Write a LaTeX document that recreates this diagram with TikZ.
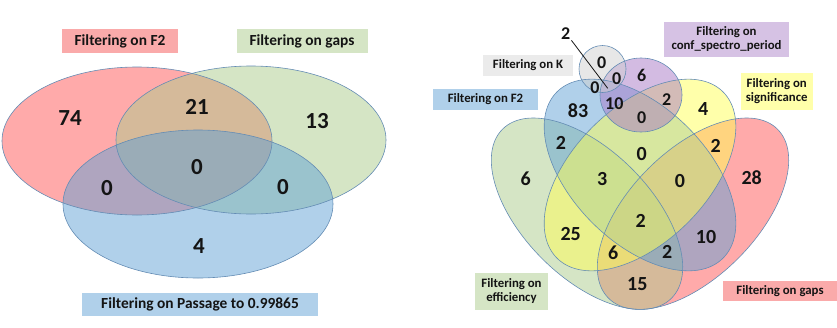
\documentclass[tikz,border=0pt]{standalone}
\usepackage{fontspec}
\setmainfont{Carlito}
\usetikzlibrary{positioning}
\definecolor{setRed}{RGB}{255,85,85}
\definecolor{setGreen}{RGB}{171,203,139}
\definecolor{setBlue}{RGB}{97,161,213}
\definecolor{setYellow}{RGB}{255,255,85}
\definecolor{setPurple}{RGB}{168,120,198}
\definecolor{setGray}{RGB}{208,208,208}
\definecolor{rimBlue}{RGB}{100,140,180}
\definecolor{tagRed}{RGB}{250,170,170}
\definecolor{tagGreen}{RGB}{213,229,197}
\definecolor{tagBlue}{RGB}{176,208,234}
\definecolor{tagYellow}{RGB}{255,255,170}
\definecolor{tagPurple}{RGB}{214,194,228}
\definecolor{tagGray}{RGB}{235,235,235}
\definecolor{inkDark}{RGB}{20,20,20}

\tikzset{
  setfill/.style={fill=#1, fill opacity=0.5},
  setrim/.style={draw=rimBlue, line width=0.6pt},
  bigtag/.style={fill=#1, text=inkDark, inner sep=0pt, align=center,
                 font=\fontsize{15.4}{17}\selectfont\bfseries},
  smalltag/.style={fill=#1, text=inkDark, inner sep=0pt, align=center,
                   font=\fontsize{12.8}{14}\selectfont\bfseries},
  bignum/.style={text=inkDark, font=\fontsize{23}{23}\selectfont\bfseries},
  num/.style={text=inkDark, font=\fontsize{20}{20}\selectfont\bfseries},
  smallnum/.style={text=inkDark, inner sep=1pt, font=\fontsize{18}{18}\selectfont\bfseries}
}

\begin{document}
\begin{tikzpicture}[x=1pt, y=-1pt]
    \useasboundingbox (0,0) rectangle (837,327);

    % left diagram: three sets
    \fill[setfill=setRed] (137,141) ellipse (135 and 74);
    \fill[setfill=setGreen] (251,140) ellipse (135 and 74);
    \fill[setfill=setBlue] (198,204) ellipse (135 and 74);
    \draw[setrim] (137,141) ellipse (135 and 74);
    \draw[setrim] (251,140) ellipse (135 and 74);
    \draw[setrim] (198,204) ellipse (135 and 74);

    \node[bigtag=tagRed, minimum width=116pt, minimum height=24pt] (lf2) at (120,41) {Filtering on F2};
    \node[bigtag=tagGreen, minimum width=131pt, minimum height=24pt] (lgaps) at (302,41) {Filtering on gaps};
    \node[bigtag=tagBlue, minimum width=236pt, minimum height=23pt] (lpass) at (200,304.5) {Filtering on Passage to 0.99865};

    \node[bignum] (l74) at (70,118) {74};
    \node[bignum] (l21) at (197,107) {21};
    \node[bignum] (l13) at (317,121) {13};
    \node[bignum] (lmid) at (197,167) {0};
    \node[bignum] (lleft) at (107,188) {0};
    \node[bignum] (lright) at (283,187) {0};
    \node[bignum] (l4) at (199,246) {4};

    % right diagram: four ellipses and two circles
    \fill[setfill=setRed, rotate around={45:(693,213.7)}] (693,213.7) ellipse (119.5 and 63.5);
    \fill[setfill=setGreen, rotate around={-45:(587,213.7)}] (587,213.7) ellipse (119.5 and 63.5);
    \fill[setfill=setBlue, rotate around={-45:(640,175)}] (640,175) ellipse (117.5 and 67.5);
    \fill[setfill=setYellow, rotate around={45:(640,175)}] (640,175) ellipse (117.5 and 67.5);
    \fill[setfill=setPurple] (641,95) ellipse (41 and 37);
    \fill[setfill=setGray] (602.5,69) circle (23.5);
    \draw[setrim, rotate around={45:(693,213.7)}] (693,213.7) ellipse (119.5 and 63.5);
    \draw[setrim, rotate around={-45:(587,213.7)}] (587,213.7) ellipse (119.5 and 63.5);
    \draw[setrim, rotate around={-45:(640,175)}] (640,175) ellipse (117.5 and 67.5);
    \draw[setrim, rotate around={45:(640,175)}] (640,175) ellipse (117.5 and 67.5);
    \draw[setrim] (641,95) ellipse (41 and 37);
    \draw[setrim] (602.5,69) circle (23.5);

    \node[smalltag=tagGray, minimum width=90pt, minimum height=21pt] (rk) at (528,65) {Filtering on K};
    \node[smalltag=tagBlue, minimum width=105pt, minimum height=21pt] (rf2) at (485.5,99.5) {Filtering on F2};
    \node[smalltag=tagPurple, minimum width=125pt, minimum height=35pt] (rconf) at (726.5,39.5) {Filtering on\\conf\_spectro\_period};
    \node[smalltag=tagYellow, minimum width=72pt, minimum height=37pt] (rsig) at (776.7,91.5) {Filtering on\\significance};
    \node[smalltag=tagGreen, minimum width=73pt, minimum height=37pt] (reff) at (511.5,291.5) {Filtering on\\efficiency};
    \node[smalltag=tagRed, minimum width=114pt, minimum height=20pt] (rgaps) at (780,291) {Filtering on gaps};

    \node[smallnum] (k0) at (601.7,62.3) {0};
    \node[smallnum] (kp0) at (616.7,78.3) {0};
    \node[smallnum] (kb0) at (595,87.7) {0};
    \node[smallnum] (p6) at (641.7,75.7) {6};
    \node[smallnum] (bp10) at (614.3,103.3) {10};
    \node[smallnum] (py2) at (666.7,100) {2};
    \node[smallnum] (pby0) at (641.7,117.7) {0};
    \node[smallnum] (kbp2) at (565.7,33.3) {2};
    \coordinate (kbp2end) at (607.7,88.3);
    \draw[inkDark, line width=0.8pt] (kbp2.south east) -- (kbp2end);

    \node[num] (b83) at (578,111) {83};
    \node[num] (y4) at (703.3,109.3) {4};
    \node[num] (gb2) at (561,143.3) {2};
    \node[num] (by0) at (641.7,154) {0};
    \node[num] (yr2) at (715.7,146) {2};
    \node[num] (g6) at (525.7,178.3) {6};
    \node[num] (gby3) at (602.3,179.3) {3};
    \node[num] (byr0) at (680,180.7) {0};
    \node[num] (r28) at (751.7,177.3) {28};
    \node[num] (all2) at (640.7,220.7) {2};
    \node[num] (gy25) at (570.7,234) {25};
    \node[num] (br10) at (706,237.3) {10};
    \node[num] (gyr6) at (613.3,252.7) {6};
    \node[num] (gbr2) at (667.3,251.7) {2};
    \node[num] (gr15) at (637.3,284) {15};
  \end{tikzpicture}
\end{document}
